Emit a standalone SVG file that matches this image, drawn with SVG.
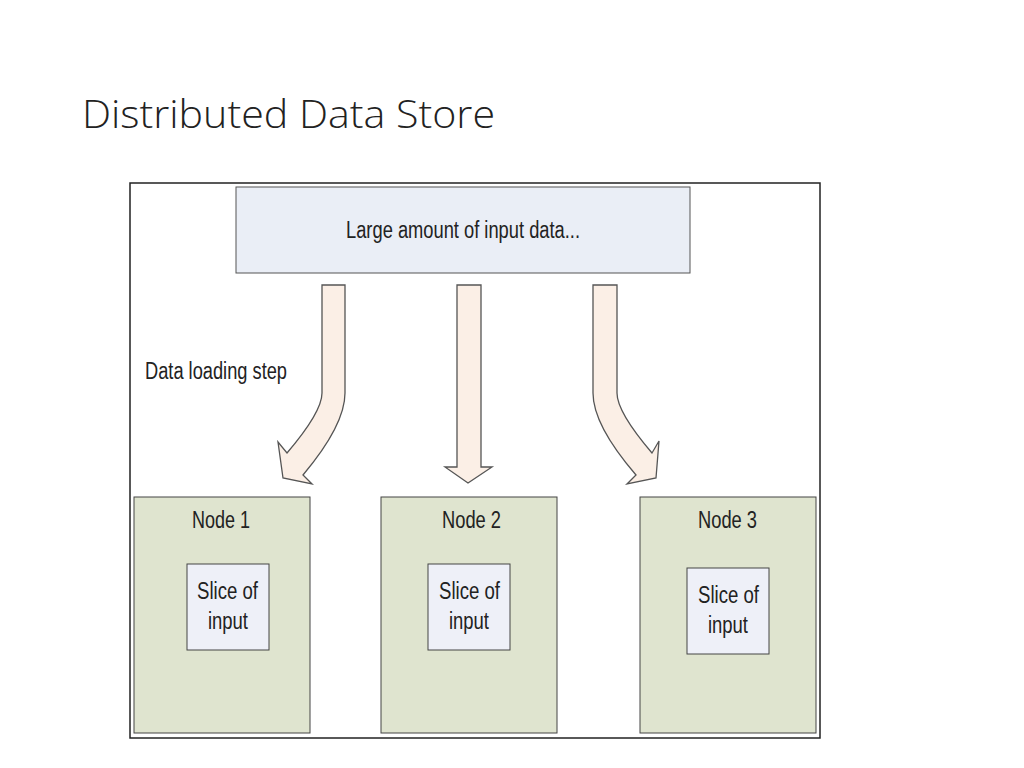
<svg xmlns="http://www.w3.org/2000/svg" width="1024" height="768" viewBox="0 0 1024 768">
<style>
.t{font-family:"Liberation Sans",Arial,sans-serif;fill:#222;font-size:23px}
.arr{fill:#fbefe6;stroke:#555;stroke-width:1.3}
.node{fill:#dfe4cf;stroke:#444;stroke-width:1}
.slice{fill:#eef0f8;stroke:#444;stroke-width:1}
</style>
<rect width="1024" height="768" fill="#fff"/>
<text x="82" y="128" font-family="'Open Sans','Noto Sans',sans-serif" font-size="38" fill="#222" font-weight="300" textLength="413" lengthAdjust="spacingAndGlyphs">Distributed Data Store</text>
<rect x="130" y="183" width="690" height="555" fill="#fff" stroke="#222" stroke-width="1.5"/>
<g id="input"><rect x="236" y="187" width="454" height="86" fill="#eaeef6" stroke="#555"/>
<text class="t" x="346" y="238" textLength="234" lengthAdjust="spacingAndGlyphs">Large amount of input data...</text></g>
<text class="t" x="145" y="379" textLength="142" lengthAdjust="spacingAndGlyphs">Data loading step</text>
<g id="connectors">
<path class="arr" d="M322,285 H345 V393 Q345,425 303,475 L312,484 L283,478 L278,442 L287,453 Q322,412 322,393 Z"/>
<path class="arr" d="M457,285 H481 V467 H492 L468,483 L445,467 H457 Z"/>
<path class="arr" d="M593,285 H617 V393 Q617,412 652,453 L659,441 L656,478 L627,484 L636,475 Q593,425 593,393 Z"/>
</g>
<g id="node1"><rect class="node" x="134" y="497" width="176" height="236"/>
<text class="t" x="192" y="528" textLength="58" lengthAdjust="spacingAndGlyphs">Node 1</text>
<rect class="slice" x="187" y="564" width="82" height="86"/>
<text class="t" x="197" y="599" textLength="61" lengthAdjust="spacingAndGlyphs">Slice of</text>
<text class="t" x="208" y="629" textLength="40" lengthAdjust="spacingAndGlyphs">input</text></g>
<g id="node2"><rect class="node" x="381" y="497" width="176" height="236"/>
<text class="t" x="442" y="528" textLength="59" lengthAdjust="spacingAndGlyphs">Node 2</text>
<rect class="slice" x="428" y="564" width="82" height="86"/>
<text class="t" x="439" y="599" textLength="61" lengthAdjust="spacingAndGlyphs">Slice of</text>
<text class="t" x="449" y="629" textLength="40" lengthAdjust="spacingAndGlyphs">input</text></g>
<g id="node3"><rect class="node" x="640" y="497" width="176" height="236"/>
<text class="t" x="698" y="528" textLength="59" lengthAdjust="spacingAndGlyphs">Node 3</text>
<rect class="slice" x="687" y="568" width="82" height="86"/>
<text class="t" x="698" y="603" textLength="61" lengthAdjust="spacingAndGlyphs">Slice of</text>
<text class="t" x="708" y="633" textLength="40" lengthAdjust="spacingAndGlyphs">input</text></g>
</svg>
